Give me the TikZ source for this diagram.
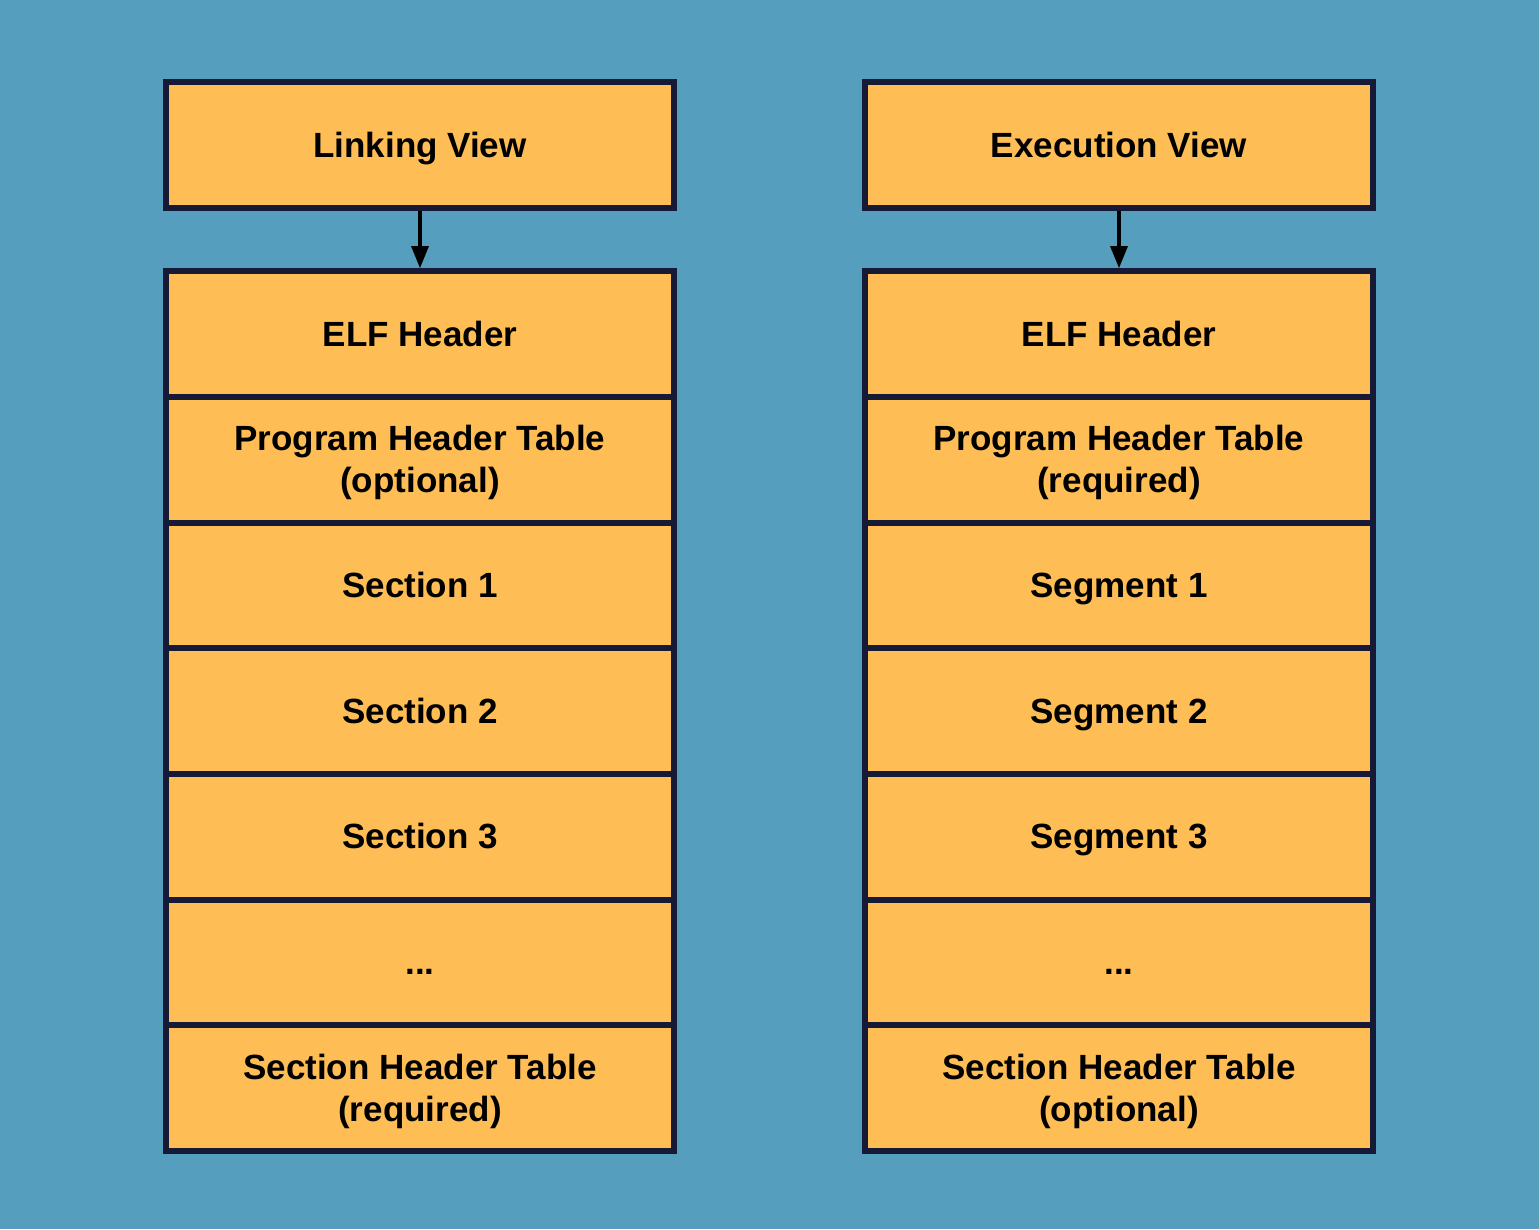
\documentclass[tikz,border=0pt]{standalone}
\usepackage{fontspec}
\setmainfont{Liberation Sans}
\usetikzlibrary{arrows.meta}
\definecolor{bg}{HTML}{559EBD}
\definecolor{cell}{HTML}{FEBD55}
\definecolor{edge}{HTML}{161A36}
\newcommand{\ls}{\rule[-9pt]{0pt}{42pt}}
\tikzset{
  cellbox/.style={draw=edge, fill=cell, line width=6pt, minimum width=508pt,
    minimum height=125.7pt, inner sep=0pt, align=center,
    font=\fontsize{35pt}{42pt}\selectfont\bfseries, text=black},
  conn/.style={draw=black, line width=3.2pt, -{Triangle[length=22pt,width=17pt]}}
}
\begin{document}
\begin{tikzpicture}[x=1pt,y=-1pt]
\fill[bg] (0,0) rectangle (1539,1229);
\useasboundingbox (0,0) rectangle (1539,1229);
% left column
\node[cellbox, minimum height=126pt] (lv) at (420,145) {\ls Linking View};
\node[cellbox] (l1) at (420,334) {\ls ELF Header};
\node[cellbox] (l2) at (420,459.7) {\ls Program Header Table\\\ls (optional)};
\node[cellbox] (l3) at (420,585.4) {\ls Section 1};
\node[cellbox] (l4) at (420,711.1) {\ls Section 2};
\node[cellbox] (l5) at (420,836.8) {\ls Section 3};
\node[cellbox] (l6) at (420,962.5) {\ls ...};
\node[cellbox] (l7) at (420,1088.2) {\ls Section Header Table\\\ls (required)};
% right column
\node[cellbox, minimum height=126pt] (ev) at (1119,145) {\ls Execution View};
\node[cellbox] (r1) at (1119,334) {\ls ELF Header};
\node[cellbox] (r2) at (1119,459.7) {\ls Program Header Table\\\ls (required)};
\node[cellbox] (r3) at (1119,585.4) {\ls Segment 1};
\node[cellbox] (r4) at (1119,711.1) {\ls Segment 2};
\node[cellbox] (r5) at (1119,836.8) {\ls Segment 3};
\node[cellbox] (r6) at (1119,962.5) {\ls ...};
\node[cellbox] (r7) at (1119,1088.2) {\ls Section Header Table\\\ls (optional)};
% connectors
\draw[conn] (lv.south) -- (l1.north);
\draw[conn] (ev.south) -- (r1.north);
\end{tikzpicture}
\end{document}
